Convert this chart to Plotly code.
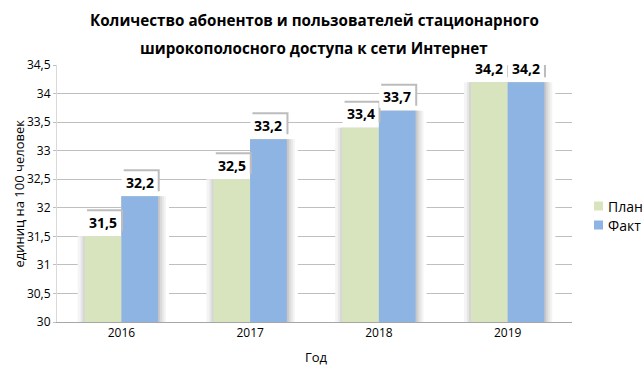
import plotly.graph_objects as go

years = ["2016", "2017", "2018", "2019"]
plan = [31.5, 32.5, 33.4, 34.2]
fact = [32.2, 33.2, 33.7, 34.2]
series_names = ["План", "Факт"]
title_lines = ["Количество абонентов и пользователей стационарного",
               "широкополосного доступа к сети Интернет"]
y_title = "единиц на 100 человек"
x_title = "Год"

FONT = "Open Sans"
PLAN_COLOR = "#d7e4bd"
FACT_COLOR = "#8db4e2"
SHADOW = "#bcbcbc"

W, H = 643, 369
L, R, T, B = 57, 71, 65, 47
pw, ph = W - L - R, H - T - B
PX = 4 / pw  # one pixel in category units

def px_x(x):
    return (x - L) / pw

def px_y(y):
    return (H - B - y) / ph

bargap = 0.43
group_w = 1 - bargap
bar_w = group_w / 2

fig = go.Figure()
# soft 3D-style shadows around the columns (drawn first, behind the columns)
right_layers = [(11, "#ffffff"), (8, "#f4f4f4"), (6, "#e8e8e8"), (4, "#dadada"), (2, "#c8c8c8")]
for e, col in right_layers:
    fig.add_trace(go.Bar(x=years, y=fact, offset=0, width=bar_w + e * PX, marker_color=col,
                         marker_line_width=0, showlegend=False, hoverinfo="skip"))
left_layers = [(7, "#f4f4f4"), (4, "#e6e6e6"), (2, "#d6d6d6")]
for e, col in left_layers:
    fig.add_trace(go.Bar(x=years, y=plan, offset=-bar_w - e * PX, width=bar_w + e * PX,
                         marker_color=col, marker_line_width=0, showlegend=False,
                         hoverinfo="skip"))

fig.add_trace(go.Bar(x=years, y=plan, name=series_names[0], marker_color=PLAN_COLOR,
                     marker_line_width=0, offset=-bar_w, width=bar_w))
fig.add_trace(go.Bar(x=years, y=fact, name=series_names[1], marker_color=FACT_COLOR,
                     marker_line_width=0, offset=0, width=bar_w))

annotations = []
shapes = []
for vals, off in ((plan, -bar_w / 2), (fact, bar_w / 2)):
    for i, v in enumerate(vals):
        xc = i + off
        # label box shadow and box (pixel-sized, anchored at the bar top)
        shapes.append(dict(type="rect", xref="x", yref="y", xsizemode="pixel", ysizemode="pixel",
                           xanchor=xc, yanchor=v, x0=-16, x1=20, y0=5, y1=27,
                           fillcolor=SHADOW, line_width=0, layer="above"))
        shapes.append(dict(type="rect", xref="x", yref="y", xsizemode="pixel", ysizemode="pixel",
                           xanchor=xc, yanchor=v, x0=-18, x1=18, y0=3, y1=25,
                           fillcolor="#ffffff", line_width=0, layer="above"))
        txt = f"{v:.1f}".replace(".", ",")
        annotations.append(dict(x=xc, y=v, xref="x", yref="y", text="<b>" + txt + "</b>",
                                showarrow=False, yanchor="middle", xanchor="center", yshift=14,
                                font=dict(family=FONT, size=14, color="#000000")))

annotations.append(dict(x=px_x(314), y=px_y(20), xref="paper", yref="paper", text="<b>" + title_lines[0] + "</b>",
                        showarrow=False, font=dict(family=FONT, size=15.2, color="#000000"),
                        xanchor="center", yanchor="middle"))
annotations.append(dict(x=px_x(314), y=px_y(48), xref="paper", yref="paper", text="<b>" + title_lines[1] + "</b>",
                        showarrow=False, font=dict(family=FONT, size=15.2, color="#000000"),
                        xanchor="center", yanchor="middle"))
annotations.append(dict(x=px_x(18), y=0.5, xref="paper", yref="paper", text=y_title,
                        textangle=-90, showarrow=False,
                        font=dict(family=FONT, size=13, color="#000000"),
                        xanchor="center", yanchor="middle"))
annotations.append(dict(x=px_x(316), y=px_y(357), xref="paper", yref="paper", text=x_title,
                        showarrow=False, font=dict(family=FONT, size=13, color="#000000"),
                        xanchor="center", yanchor="middle"))

# legend drawn as swatches + labels
for k, (name, col) in enumerate(zip(series_names, [PLAN_COLOR, FACT_COLOR])):
    cy = 206 + 19 * k
    shapes.append(dict(type="rect", xref="paper", yref="paper",
                       x0=px_x(594), x1=px_x(603), y0=px_y(cy - 4.5), y1=px_y(cy + 4.5),
                       fillcolor=col, line_width=0))
    annotations.append(dict(x=px_x(606), y=px_y(cy), xref="paper", yref="paper", text=name,
                            showarrow=False, font=dict(family=FONT, size=14, color="#000000"),
                            xanchor="left", yanchor="middle"))

fig.update_layout(
    width=W, height=H,
    margin=dict(l=L, r=R, t=T, b=B, autoexpand=False),
    paper_bgcolor="white", plot_bgcolor="white",
    barmode="overlay",
    separators=", ",
    font=dict(family=FONT, size=12, color="#404040"),
    showlegend=False,
    annotations=annotations,
    shapes=shapes,
)
fig.update_xaxes(type="category", showgrid=False, showline=True, linecolor="#a6a6a6",
                 linewidth=1, ticks="", tickfont=dict(family=FONT, size=12, color="#000000"))
fig.update_yaxes(range=[30, 34.5], dtick=0.5, tick0=30, showgrid=True, gridcolor="#bfbfbf",
                 gridwidth=1, showline=True, linecolor="#d9d9d9", ticks="outside",
                 ticklen=3, tickcolor="#bfbfbf", zeroline=False,
                 tickfont=dict(family=FONT, size=12, color="#000000"))

fig.write_html("out.html", config={"displayModeBar": False},
               post_script="document.body.style.margin='0px';")
